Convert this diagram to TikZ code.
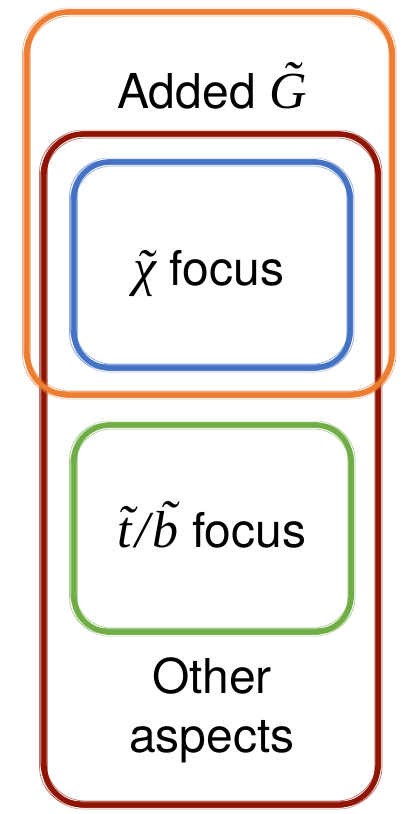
\documentclass[tikz,border=0pt]{standalone}
\usepackage{fontspec}
\setmainfont{TeX Gyre Heros}
\newfontfamily\tms{Liberation Serif}
\newcommand\mi[1]{{\tms\itshape\fontsize{52}{59}\selectfont\accent"02DC #1}}
\definecolor{cOrange}{RGB}{237,125,49}
\definecolor{cRed}{RGB}{143,20,2}
\definecolor{cBlue}{RGB}{68,114,196}
\definecolor{cGreen}{RGB}{112,173,71}
\newcommand\sketchbox[6]{%
  \draw[#1, line width=5.4pt, rounded corners=#6pt] (#2,#3) rectangle (#4,#5);
  \draw[#1, line width=1.4pt, rounded corners=#6pt, opacity=.85] (#2-3,#3+2) rectangle (#4+2.5,#5-3);
  \draw[#1, line width=1pt, rounded corners=#6pt, opacity=.75] (#2+3,#3-2.5) rectangle (#4-3,#5+2.5);
  \draw[#1, line width=0.7pt, rounded corners=#6pt, opacity=.6] (#2-4.5,#3-1.5) rectangle (#4+4,#5+1.5);
  \draw[#1, line width=0.7pt, rounded corners=#6pt, opacity=.6] (#2+1.5,#3+4) rectangle (#4-1.5,#5-4);
  \draw[#1, line width=0.5pt, rounded corners=#6pt, opacity=.5] (#2-1.5,#3-4) rectangle (#4+1,#5+4);
}
\tikzset{lbl/.style={inner sep=0pt, anchor=base, font=\fontsize{48}{59}\selectfont}}
\begin{document}
\begin{tikzpicture}[x=1pt,y=-1pt]
  \useasboundingbox (0,0) rectangle (400,814);
  % dark red outer box
  \sketchbox{cRed}{44}{134}{378}{805}{40}
  % orange box
  \sketchbox{cOrange}{27}{12}{392}{395}{42}
  % blue box
  \sketchbox{cBlue}{74}{162}{350}{368}{36}
  % green box
  \sketchbox{cGreen}{74}{425}{351}{632}{36}
  % labels
  \node[lbl] (added) at (212,108) {Added \mi{G}};
  \node[lbl] (chi) at (209,285) {\mi{χ} focus};
  \node[lbl] (tb) at (212,547) {\mi{t}\kern3pt{\tms\itshape\fontsize{52}{59}\selectfont /}\kern3pt\mi{b} focus};
  \node[lbl] (other) at (212,693) {Other};
  \node[lbl] (aspects) at (212,752) {aspects};
\end{tikzpicture}
\end{document}
